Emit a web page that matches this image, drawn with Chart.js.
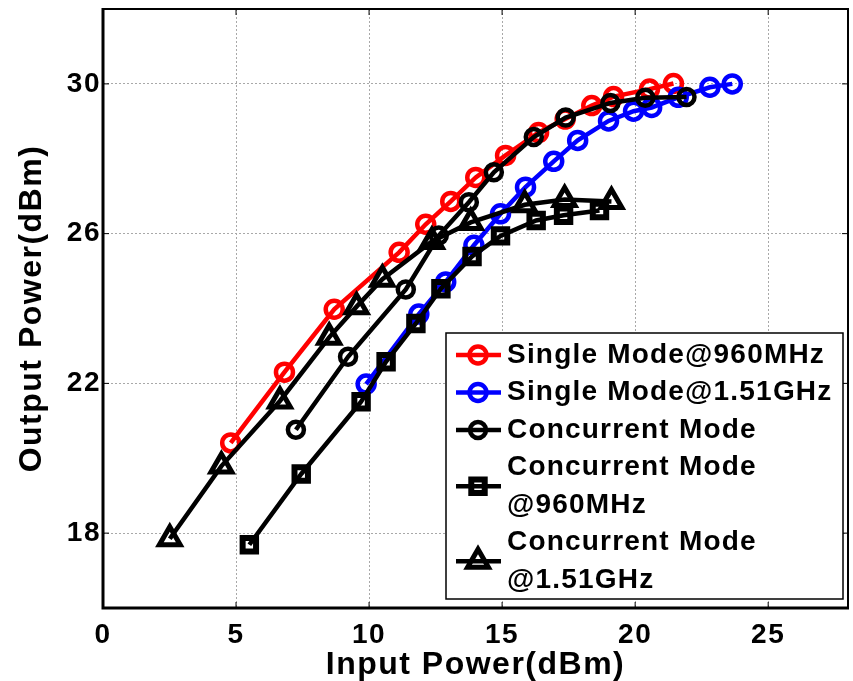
<!DOCTYPE html>
<html>
<head>
<meta charset="utf-8">
<script src="https://cdn.jsdelivr.net/npm/chart.js@4.4.1/dist/chart.umd.min.js"></script>
<style>
html,body{margin:0;padding:0;background:#fff;}
#wrap{width:853px;height:681px;position:relative;}
</style>
</head>
<body>
<div id="wrap"><canvas id="c" width="853" height="681"></canvas></div>
<script>
// ---- data ----
const xTickValues = [0, 5, 10, 15, 20, 25];
const yTickValues = [18, 22, 26, 30];

const singleLowX  = [4.80, 6.82, 8.69, 11.13, 12.13, 13.07, 14.01, 15.13, 16.37, 17.37, 18.37, 19.19, 20.54, 21.44];
const singleLowY  = [20.41, 22.30, 23.98, 25.50, 26.25, 26.86, 27.50, 28.09, 28.70, 29.06, 29.42, 29.66, 29.86, 30.01];

const singleHighX = [9.89, 11.87, 12.88, 13.94, 14.94, 15.88, 16.94, 17.84, 19.00, 19.94, 20.62, 21.62, 22.81, 23.65];
const singleHighY = [21.98, 23.85, 24.71, 25.69, 26.53, 27.24, 27.93, 28.49, 29.01, 29.27, 29.37, 29.64, 29.91, 30.00];

const concX = [7.25, 9.21, 11.38, 12.62, 13.75, 14.69, 16.19, 17.39, 19.07, 20.38, 21.93];
const concY = [20.76, 22.71, 24.51, 25.95, 26.84, 27.64, 28.58, 29.10, 29.49, 29.63, 29.65];

const concLowX = [5.50, 7.45, 9.70, 10.64, 11.76, 12.70, 13.87, 14.94, 16.28, 17.31, 18.66];
const concLowY = [17.69, 19.58, 21.51, 22.58, 23.60, 24.53, 25.39, 25.94, 26.35, 26.49, 26.62];

const concHighX = [2.51, 4.45, 6.65, 8.50, 9.53, 10.50, 12.36, 13.82, 15.85, 17.35, 19.11];
const concHighY = [17.85, 19.79, 21.53, 23.23, 24.05, 24.78, 25.79, 26.30, 26.77, 26.91, 26.86];

const seriesLabels = [
  ['Single Mode@960MHz'],
  ['Single Mode@1.51GHz'],
  ['Concurrent Mode'],
  ['Concurrent Mode', '@960MHz'],
  ['Concurrent Mode', '@1.51GHz']
];
const xTitle = 'Input Power(dBm)';
const yTitle = 'Output Power(dBm)';

// ---- chart ----
const FONT = '"Liberation Sans", Arial, Helvetica, sans-serif';
Chart.defaults.font.family = FONT;
Chart.defaults.color = '#000';

const pts = (xs, ys) => xs.map((x, i) => ({x: x, y: ys[i]}));

const styles = [
  {color: '#ff0000', shape: 'circle',   r: 8.5, bw: 4.5, lw: 4.5, order: 5},
  {color: '#0000ff', shape: 'circle',   r: 8.5, bw: 4.5, lw: 4.5, order: 4},
  {color: '#000000', shape: 'circle',   r: 8,   bw: 4.5, lw: 4.5, order: 3},
  {color: '#000000', shape: 'rect',     r: 9.5, bw: 6,   lw: 4.5, order: 2},
  {color: '#000000', shape: 'triangle', r: 12,  bw: 5,   lw: 4.5, order: 1}
];
const seriesData = [
  pts(singleLowX, singleLowY),
  pts(singleHighX, singleHighY),
  pts(concX, concY),
  pts(concLowX, concLowY),
  pts(concHighX, concHighY)
];

const datasets = seriesData.map((d, i) => ({
  label: seriesLabels[i].join(' '),
  data: d,
  showLine: true,
  borderColor: styles[i].color,
  backgroundColor: 'rgba(0,0,0,0)',
  borderWidth: styles[i].lw,
  pointStyle: styles[i].shape,
  pointRadius: styles[i].r,
  pointBorderWidth: styles[i].bw,
  pointBorderColor: styles[i].color,
  pointBackgroundColor: 'rgba(0,0,0,0)',
  tension: 0,
  order: styles[i].order,
  clip: false
}));

const spacingPlugin = {
  id: 'spacing',
  beforeLayout(chart) { chart.ctx.letterSpacing = '1.5px'; },
  beforeDraw(chart) { chart.ctx.letterSpacing = '1.5px'; }
};

const framePlugin = {
  id: 'frame',
  afterDatasetsDraw(chart) {
    const {ctx, chartArea: a, scales} = chart;
    ctx.save();
    ctx.strokeStyle = '#000';
    ctx.setLineDash([]);
    ctx.lineWidth = 1;
    ctx.beginPath();
    xTickValues.forEach(v => {
      const px = scales.x.getPixelForValue(v);
      ctx.moveTo(px, a.bottom); ctx.lineTo(px, a.bottom - 6);
      ctx.moveTo(px, a.top); ctx.lineTo(px, a.top + 6);
    });
    yTickValues.forEach(v => {
      const py = scales.y.getPixelForValue(v);
      ctx.moveTo(a.left, py); ctx.lineTo(a.left + 6, py);
      ctx.moveTo(a.right, py); ctx.lineTo(a.right - 6, py);
    });
    ctx.stroke();
    ctx.lineWidth = 2;
    ctx.beginPath();
    ctx.moveTo(a.left, a.top); ctx.lineTo(a.right, a.top); ctx.lineTo(a.right, a.bottom);
    ctx.stroke();
    ctx.lineWidth = 3;
    ctx.beginPath();
    ctx.moveTo(a.left, a.top - 1); ctx.lineTo(a.left, a.bottom); ctx.lineTo(a.right + 1, a.bottom);
    ctx.stroke();
    ctx.restore();
  }
};

function drawMarker(ctx, st, x, y) {
  ctx.save();
  ctx.strokeStyle = st.color;
  ctx.lineWidth = st.bw;
  ctx.beginPath();
  if (st.shape === 'circle') {
    ctx.arc(x, y, st.r, 0, Math.PI * 2);
  } else if (st.shape === 'rect') {
    const s = Math.SQRT1_2 * st.r;
    ctx.rect(x - s, y - s, 2 * s, 2 * s);
  } else {
    let rad = 0;
    ctx.moveTo(x + Math.sin(rad) * st.r, y - Math.cos(rad) * st.r);
    rad += 2 * Math.PI / 3;
    ctx.lineTo(x + Math.sin(rad) * st.r, y - Math.cos(rad) * st.r);
    rad += 2 * Math.PI / 3;
    ctx.lineTo(x + Math.sin(rad) * st.r, y - Math.cos(rad) * st.r);
    ctx.closePath();
  }
  ctx.stroke();
  ctx.restore();
}

const legendPlugin = {
  id: 'boxLegend',
  afterDraw(chart) {
    const {ctx, chartArea: a} = chart;
    const boxR = a.right - 5, boxB = a.bottom - 9;
    const boxL = boxR - 397, boxT = boxB - 266;
    ctx.save();
    ctx.fillStyle = '#fff';
    ctx.fillRect(boxL, boxT, boxR - boxL, boxB - boxT);
    ctx.strokeStyle = '#000';
    ctx.lineWidth = 1.5;
    ctx.strokeRect(boxL, boxT, boxR - boxL, boxB - boxT);
    const lineH = 37.5;
    let yLine = boxT + 22;
    const lineX0 = boxL + 10, lineX1 = boxL + 55, markX = boxL + 32, textX = boxL + 61;
    ctx.font = 'bold 28px ' + FONT;
    ctx.letterSpacing = '1.2px';
    ctx.textBaseline = 'middle';
    ctx.textAlign = 'left';
    seriesLabels.forEach((lines, i) => {
      const st = styles[i];
      const cy = yLine + (lines.length - 1) * lineH / 2;
      ctx.strokeStyle = st.color;
      ctx.lineWidth = 4.5;
      ctx.beginPath();
      ctx.moveTo(lineX0, cy); ctx.lineTo(lineX1, cy);
      ctx.stroke();
      drawMarker(ctx, st, markX, cy);
      ctx.fillStyle = '#000';
      lines.forEach((t, k) => ctx.fillText(t, textX, yLine + k * lineH));
      yLine += lines.length * lineH;
    });
    ctx.restore();
  }
};

const zeroPad = s => { s.paddingTop = 0; s.paddingBottom = 0; s.paddingLeft = 0; s.paddingRight = 0; };

new Chart(document.getElementById('c'), {
  type: 'scatter',
  data: {datasets: datasets},
  options: {
    responsive: false,
    animation: false,
    devicePixelRatio: 1,
    layout: {autoPadding: false, padding: {top: 9, right: 5, left: 0, bottom: 0}},
    plugins: {legend: {display: false}, tooltip: {enabled: false}},
    scales: {
      x: {
        type: 'linear', min: 0, max: 28,
        afterBuildTicks: s => { s.ticks = xTickValues.map(v => ({value: v})); },
        afterFit: s => { s.height = 73; zeroPad(s); },
        ticks: {font: {size: 28, weight: 'bold'}, color: '#000', padding: 10, maxRotation: 0, autoSkip: false},
        grid: {color: '#a8a8a8', lineWidth: 1, drawTicks: false},
        border: {display: false, dash: [2, 2]},
        title: {display: true, text: xTitle, color: '#000', font: {size: 32, weight: 'bold'}, padding: {top: 0, bottom: -3}}
      },
      y: {
        type: 'linear', min: 16, max: 32,
        afterBuildTicks: s => { s.ticks = yTickValues.map(v => ({value: v})); },
        afterFit: s => { s.width = 103; zeroPad(s); },
        ticks: {font: {size: 28, weight: 'bold'}, color: '#000', padding: 2},
        grid: {color: '#a8a8a8', lineWidth: 1, drawTicks: false},
        border: {display: false, dash: [2, 2]},
        title: {display: true, text: yTitle, color: '#000', font: {size: 32, weight: 'bold'}, padding: {top: 13, bottom: 0}}
      }
    }
  },
  plugins: [spacingPlugin, framePlugin, legendPlugin]
});
</script>
</body>
</html>
